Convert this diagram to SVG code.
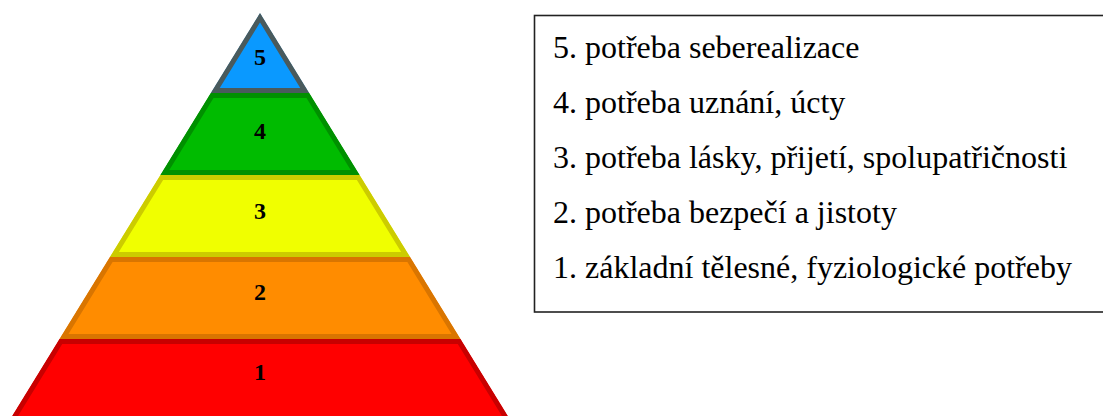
<svg xmlns="http://www.w3.org/2000/svg" width="1103" height="416" viewBox="0 0 1103 416">
  <style>
    .num { font-family: "Liberation Serif", "Times New Roman", serif; font-weight: bold; font-size: 24px; fill: #000; text-anchor: middle; }
    .leg { font-family: "Liberation Serif", "Times New Roman", serif; font-size: 32px; fill: #000; }
    .lay { stroke-width: 10; stroke-linejoin: miter; }
  </style>
  <defs>
    <clipPath id="c5"><polygon points="260,13 309.2,93 210.8,93"/></clipPath>
    <clipPath id="c4"><polygon points="210.8,93 309.2,93 359.6,175 160.4,175"/></clipPath>
    <clipPath id="c3"><polygon points="160.4,175 359.6,175 410.1,257 109.9,257"/></clipPath>
    <clipPath id="c2"><polygon points="109.9,257 410.1,257 460.5,339 59.5,339"/></clipPath>
    <clipPath id="c1"><polygon points="59.5,339 460.5,339 510.9,421 9.1,421"/></clipPath>
  </defs>
  <rect width="1103" height="416" fill="#ffffff"/>
  <g id="level1">
    <polygon class="lay" clip-path="url(#c1)" points="59.5,339 460.5,339 510.9,421 9.1,421" fill="#ff0000" stroke="#c80000"/>
    <text class="num" x="260" y="380">1</text>
  </g>
  <g id="level2">
    <polygon class="lay" clip-path="url(#c2)" points="109.9,257 410.1,257 460.5,339 59.5,339" fill="#ff8c00" stroke="#d97500"/>
    <text class="num" x="260" y="300">2</text>
  </g>
  <g id="level3">
    <polygon class="lay" clip-path="url(#c3)" points="160.4,175 359.6,175 410.1,257 109.9,257" fill="#f0ff00" stroke="#cccc00"/>
    <text class="num" x="260" y="219">3</text>
  </g>
  <g id="level4">
    <polygon class="lay" clip-path="url(#c4)" points="210.8,93 309.2,93 359.6,175 160.4,175" fill="#00bb00" stroke="#009000"/>
    <text class="num" x="260" y="139">4</text>
  </g>
  <g id="level5">
    <polygon class="lay" clip-path="url(#c5)" points="260,13 309.2,93 210.8,93" fill="#0a99ff" stroke="#4a5a5c"/>
    <text class="num" x="260" y="65">5</text>
  </g>
  <g id="legend">
    <rect x="534.5" y="15.5" width="600" height="296.5" fill="none" stroke="#222" stroke-width="1.6"/>
    <text class="leg" x="553" y="57.5">5. potřeba seberealizace</text>
    <text class="leg" x="553" y="112.5">4. potřeba uznání, úcty</text>
    <text class="leg" x="553" y="167.5">3. potřeba lásky, přijetí, spolupatřičnosti</text>
    <text class="leg" x="553" y="222.5">2. potřeba bezpečí a jistoty</text>
    <text class="leg" x="553" y="277.5">1. základní tělesné, fyziologické potřeby</text>
  </g>
  <g id="connectors"></g>
</svg>
